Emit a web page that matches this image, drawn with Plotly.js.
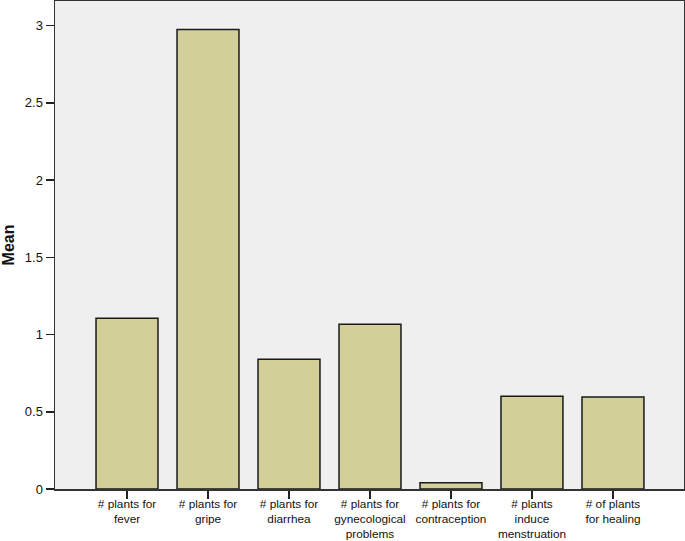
<!DOCTYPE html>
<html><head><meta charset="utf-8">
<script src="https://cdn.plot.ly/plotly-3.0.1.min.js"></script>
<style>html,body{margin:0;padding:0;background:#fff}#c{width:685px;height:541px}</style>
</head><body><div id="c"></div>
<script>
const categories = ["# plants for<br>fever","# plants for<br>gripe","# plants for<br>diarrhea","# plants for<br>gynecological<br>problems","# plants for<br>contraception","# plants<br>induce<br>menstruation","# of plants<br>for healing"];
const means = [1.105, 2.975, 0.84, 1.067, 0.04, 0.60, 0.595];
const yTicks = [0, 0.5, 1, 1.5, 2, 2.5, 3];
const yTickLabels = ["0", "0.5", "1", "1.5", "2", "2.5", "3"];

Plotly.newPlot('c', [{
  type: 'bar', x: categories.map((_, i) => i), y: means, width: 0.765,
  marker: {color: '#d3cf99', line: {color: '#1a1a1a', width: 1.5}},
  hoverinfo: 'none'
}], {
  width: 685, height: 541,
  margin: {l: 55, r: 1, t: 1, b: 52},
  paper_bgcolor: '#ffffff', plot_bgcolor: '#efefef',
  font: {family: 'Liberation Sans, Arial, sans-serif', color: '#111'},
  showlegend: false,
  xaxis: {
    range: [-0.889, 6.877], tickvals: categories.map((_, i) => i), ticktext: categories,
    ticks: 'outside', ticklen: 8, tickwidth: 1.5, tickcolor: '#222', ticklabelstandoff: -5,
    showline: true, linecolor: '#333', linewidth: 1.5, mirror: true,
    showgrid: false, zeroline: false, tickfont: {size: 11.8, color: '#111'}
  },
  yaxis: {
    range: [0, 3.16], tickvals: yTicks, ticktext: yTickLabels,
    ticks: 'outside', ticklen: 8, tickwidth: 1.5, tickcolor: '#222',
    showline: true, linecolor: '#333', linewidth: 1.5, mirror: true,
    showgrid: false, zeroline: false, tickfont: {size: 13, color: '#111'},
    title: {text: '<b>Mean</b>', font: {size: 16, color: '#111'}, standoff: 12}
  }
}, {displayModeBar: false, staticPlot: true});
</script></body></html>
